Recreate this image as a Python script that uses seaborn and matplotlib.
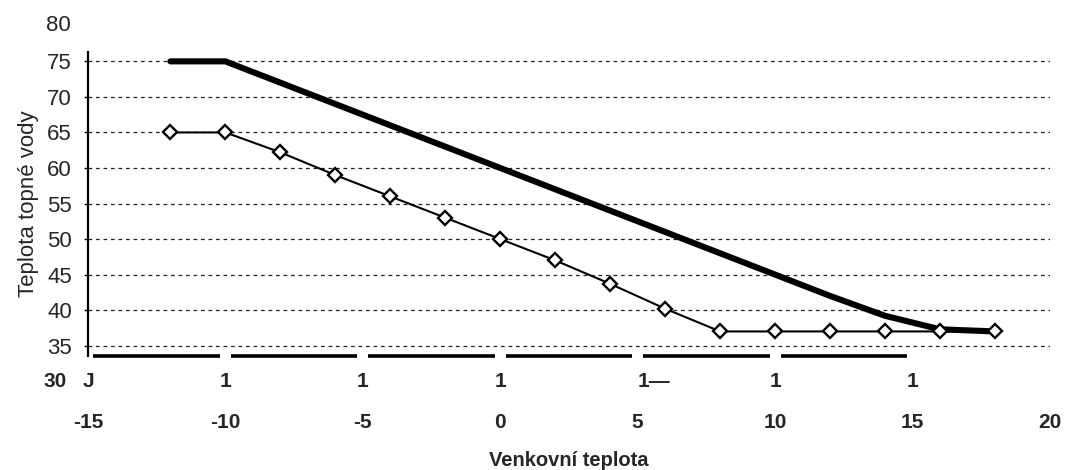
import matplotlib
matplotlib.use('Agg')
import matplotlib.pyplot as plt
import matplotlib.transforms as mtransforms
import seaborn as sns
import pandas as pd

# data
outdoor_temp = [-12, -10, -8, -6, -4, -2, 0, 2, 4, 6, 8, 10, 12, 14, 16, 18]
water_max = [75, 75, 72, 69, 66, 63, 60, 57, 54, 51, 48, 45, 42, 39.2, 37.3, 37]
water_curve = [65, 65, 62.2, 59, 56, 53, 50, 47, 43.7, 40.2, 37, 37, 37, 37, 37, 37]

y_ticks = [35, 40, 45, 50, 55, 60, 65, 70, 75]
x_ticks = [-15, -10, -5, 0, 5, 10, 15, 20]
# scanner/OCR row under the axis
ocr_row_pos = [-15, -10, -5, 0, 5, 10, 15]
ocr_row_txt = ['J', '1', '1', '1', '1\u2014', '1', '1']

df = pd.DataFrame({'x': outdoor_temp, 'max': water_max, 'curve': water_curve})

sns.set_style('white')
plt.rcParams['font.family'] = ['Liberation Sans', 'DejaVu Sans']

fig = plt.figure(figsize=(10.7, 4.7), dpi=100)
ax = fig.add_axes([0.0822, 0.2434, 0.8990, 0.6457])

ax.set_xlim(-15, 20)
ax.set_ylim(33.6, 76.3)

# dashed horizontal grid
for y in y_ticks:
    ax.axhline(y, color='#222222', lw=0.9, linestyle=(0, (3, 3)), zorder=1)

sns.lineplot(data=df, x='x', y='max', color='black', lw=4.4, ax=ax, zorder=3)
sns.lineplot(data=df, x='x', y='curve', color='black', lw=1.5, marker='D',
             markersize=7.5, markerfacecolor='white', markeredgecolor='black',
             markeredgewidth=1.7, ax=ax, zorder=4)

# spines
for s in ['top', 'right', 'bottom']:
    ax.spines[s].set_visible(False)
ax.spines['left'].set_linewidth(1.6)
ax.spines['left'].set_color('black')

# broken thick axis line at the bottom
ybot = ax.get_ylim()[0]
for t in x_ticks[:-2]:
    ax.plot([t + 0.2, t + 4.8], [ybot, ybot], color='black', lw=2.6,
            solid_capstyle='butt', clip_on=False, zorder=5)

ax.set_yticks(y_ticks)
ax.set_yticklabels([str(v) for v in y_ticks])
ax.tick_params(axis='y', length=3, width=1, pad=8.5, labelsize=16, left=True,
               direction='out', color='black')

ax.set_xticks(x_ticks)
ax.set_xticklabels([str(v) for v in x_ticks], fontweight='bold')
ax.tick_params(axis='x', length=0, pad=41, labelsize=15)

blend = mtransforms.blended_transform_factory(ax.transAxes, ax.transData)
ax.text(-0.018, 80, '80', transform=blend, ha='right', va='center',
        fontsize=16, clip_on=False)
ax.text(-0.022, 30, '30', transform=blend, ha='right', va='center',
        fontsize=15, fontweight='bold', clip_on=False)
for pos, txt in zip(ocr_row_pos, ocr_row_txt):
    ax.text(pos, 30, txt, ha='center' if txt != '1\u2014' else 'left',
            va='center', fontsize=15, fontweight='bold', clip_on=False)

ax.set_xlabel('Venkovn\u00ed teplota', fontsize=14.5, fontweight='bold', labelpad=14)
ax.set_ylabel('Teplota topn\u00e9 vody', fontsize=16, labelpad=6)

fig.savefig('out.png', dpi=100)
